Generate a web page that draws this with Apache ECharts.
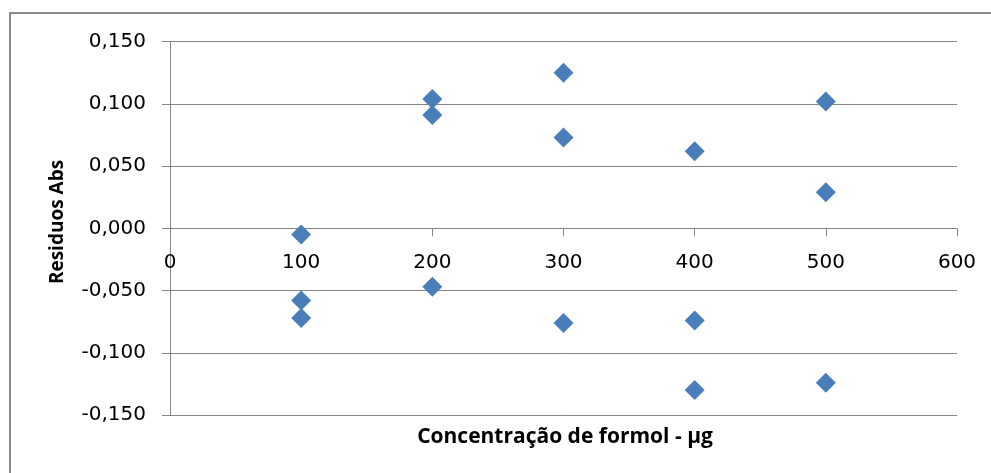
<!DOCTYPE html>
<html>
<head>
<meta charset="utf-8">
<script src="https://cdn.jsdelivr.net/npm/echarts@6/dist/echarts.min.js"></script>
<style>
html,body{margin:0;padding:0;background:#fff;}
#chart{width:991px;height:473px;}
</style>
</head>
<body>
<div id="chart"></div>
<script>
// Data
const concentrations = [100, 100, 100, 200, 200, 200, 300, 300, 300, 400, 400, 400, 500, 500, 500];
const residuals = [-0.005, -0.058, -0.072, 0.104, 0.091, -0.047, 0.125, 0.073, -0.076, 0.062, -0.074, -0.130, 0.102, 0.029, -0.124];
const xTicks = [0, 600, 100];      // min, max, interval
const yTicks = [-0.15, 0.15, 0.05]; // min, max, interval
const xTitle = 'Concentração de formol - µg';
const yTitle = 'Residuos Abs';

const points = concentrations.map((c, i) => [c, residuals[i]]);

const W = 991, H = 473;
const gridTop = 41.7, gridBottom = 58;
const plotH = H - gridTop - gridBottom;
// distance from bottom of plot area to the zero line
const zeroOffset = plotH * (0 - yTicks[0]) / (yTicks[1] - yTicks[0]);

const chart = echarts.init(document.getElementById('chart'), null, {renderer: 'canvas'});
const axisGray = '#868686';
chart.setOption({
  animation: false,
  backgroundColor: '#fff',
  graphic: [{
    type: 'rect',
    shape: {x: 10, y: 13, width: 1000, height: 500},
    style: {fill: 'none', stroke: '#8a8a8a', lineWidth: 2},
    silent: true
  }, {
    type: 'text',
    style: {
      text: xTitle,
      x: 565, y: 437,
      align: 'center', verticalAlign: 'middle',
      fill: '#000', font: 'bold 21px "Open Sans"'
    },
    silent: true
  }, {
    type: 'text',
    rotation: Math.PI / 2,
    x: 58, y: 222,
    style: {
      text: yTitle,
      x: 0, y: 0,
      align: 'center', verticalAlign: 'middle',
      fill: '#000', font: 'bold 19px "Open Sans"'
    },
    silent: true
  }],
  grid: {left: 170, right: 34, top: gridTop, bottom: gridBottom, containLabel: false},
  xAxis: {
    type: 'value',
    min: xTicks[0], max: xTicks[1], interval: xTicks[2],
    offset: -zeroOffset,
    axisLine: {show: true, onZero: false, lineStyle: {color: axisGray, width: 1}},
    axisTick: {show: true, length: 8, inside: false, lineStyle: {color: axisGray}},
    axisLabel: {margin: 24, color: '#000', fontFamily: 'DejaVu Sans', fontSize: 20},
    splitLine: {show: false}
  },
  yAxis: {
    type: 'value',
    min: yTicks[0], max: yTicks[1], interval: yTicks[2],
    axisLine: {show: true, lineStyle: {color: axisGray, width: 1}},
    axisTick: {show: true, length: 8, lineStyle: {color: axisGray}},
    axisLabel: {
      margin: 24, color: '#000', fontFamily: 'DejaVu Sans', fontSize: 20,
      formatter: v => v.toFixed(3).replace('.', ',')
    },
    splitLine: {show: true, lineStyle: {color: axisGray, width: 1}}
  },
  series: [{
    type: 'scatter',
    data: points,
    symbol: 'diamond',
    symbolSize: [20, 20],
    itemStyle: {color: '#4A7EBB', opacity: 1}
  }]
});
</script>
</body>
</html>
